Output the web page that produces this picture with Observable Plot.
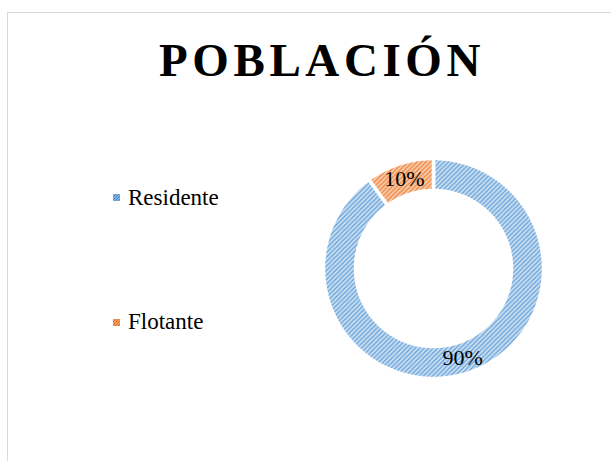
<!DOCTYPE html>
<html><head><meta charset="utf-8">
<script src="https://cdn.jsdelivr.net/npm/d3@7"></script>
<script src="https://cdn.jsdelivr.net/npm/@observablehq/plot@0.6"></script>
<style>
html,body{margin:0;padding:0;background:#fff;width:611px;height:461px;overflow:hidden;}
#frame{position:absolute;left:7px;top:12px;width:640px;height:480px;border:1.5px solid #d9d9d9;box-sizing:border-box;}
.t{position:absolute;font-family:"Liberation Serif","Times New Roman",serif;line-height:1;white-space:nowrap;color:#000;}
#title{left:159px;top:36.5px;font-size:47px;font-weight:bold;letter-spacing:4.6px;}
.sw{position:absolute;width:7px;height:7px;}
#chart{position:absolute;left:313px;top:147.5px;}
</style></head>
<body>
<svg width="0" height="0" style="position:absolute">
<defs>
<pattern id="pat-res" patternUnits="userSpaceOnUse" width="4.5" height="4.5">
  <rect width="4.5" height="4.5" fill="#cde0f3"/>
  <path d="M-1,1 l2,-2 M0,4.5 l4.5,-4.5 M3.5,5.5 l2,-2" stroke="#69a3d9" stroke-width="1.4"/>
</pattern>
<pattern id="pat-flo" patternUnits="userSpaceOnUse" width="4.5" height="4.5">
  <rect width="4.5" height="4.5" fill="#f9cdae"/>
  <path d="M-1,1 l2,-2 M0,4.5 l4.5,-4.5 M3.5,5.5 l2,-2" stroke="#ee8640" stroke-width="1.4"/>
</pattern>
<pattern id="sw-res" patternUnits="userSpaceOnUse" width="3" height="3">
  <rect width="3" height="3" fill="#7fb0df"/>
  <path d="M0,3 l3,-3" stroke="#4a8ccf" stroke-width="1"/>
</pattern>
<pattern id="sw-flo" patternUnits="userSpaceOnUse" width="3" height="3">
  <rect width="3" height="3" fill="#f29a5e"/>
  <path d="M0,3 l3,-3" stroke="#e46f22" stroke-width="1"/>
</pattern>
</defs>
</svg>
<div id="frame"></div>
<div id="title" class="t">POBLACIÓN</div>
<div id="legend"></div>
<div id="chart"></div>
<script>
const categories = ["Residente", "Flotante"];
const values = [90, 10];
const labels = ["90%", "10%"];
const patterns = ["url(#pat-res)", "url(#pat-flo)"];
const swatchPatterns = ["url(#sw-res)", "url(#sw-flo)"];

// legend (HTML)
const legendTops = [185.7, 309.7];
const swatchTops = [193.5, 318.5];
const legend = document.getElementById("legend");
categories.forEach((c, i) => {
  const sw = document.createElementNS("http://www.w3.org/2000/svg", "svg");
  sw.setAttribute("class", "sw");
  sw.setAttribute("width", 7); sw.setAttribute("height", 7);
  sw.style.left = "113px"; sw.style.top = swatchTops[i] + "px";
  sw.innerHTML = `<rect width="7" height="7" fill="${swatchPatterns[i]}"/>`;
  legend.appendChild(sw);
  const t = document.createElement("div");
  t.className = "t";
  t.style.left = "128px"; t.style.top = legendTops[i] + "px"; t.style.fontSize = "23px";
  t.textContent = c;
  legend.appendChild(t);
});

// donut geometry from data
const arcs = d3.pie().sort(null).value(d => d)(values);
const R0 = 78, R1 = 110;
const ringPts = [];
arcs.forEach((a, i) => {
  const n = Math.max(4, Math.ceil((a.endAngle - a.startAngle) / (2 * Math.PI) * 360));
  for (let k = 0; k <= n; k++) {
    const t = a.startAngle + (a.endAngle - a.startAngle) * k / n;
    ringPts.push({cat: categories[i], x: R1 * Math.sin(t), y: R1 * Math.cos(t)});
  }
  for (let k = n; k >= 0; k--) {
    const t = a.startAngle + (a.endAngle - a.startAngle) * k / n;
    ringPts.push({cat: categories[i], x: R0 * Math.sin(t), y: R0 * Math.cos(t)});
  }
});
const labelPts = arcs.map((a, i) => {
  const m = (a.startAngle + a.endAngle) / 2, r = (R0 + R1) / 2;
  return {label: labels[i], x: r * Math.sin(m), y: r * Math.cos(m)};
});

const plot = Plot.plot({
  width: 240, height: 240, margin: 0,
  style: {background: "transparent"},
  x: {domain: [-120, 120], axis: null},
  y: {domain: [-120, 120], axis: null},
  color: {domain: categories, range: patterns},
  marks: [
    Plot.line(ringPts, {x: "x", y: "y", z: "cat", fill: "cat", stroke: "white", strokeWidth: 3.5, curve: "linear-closed"}),
    Plot.text(labelPts, {x: "x", y: "y", text: "label", fontSize: 22, fontFamily: "Liberation Serif", fill: "black"})
  ]
});
document.getElementById("chart").appendChild(plot);
</script>
</body></html>
